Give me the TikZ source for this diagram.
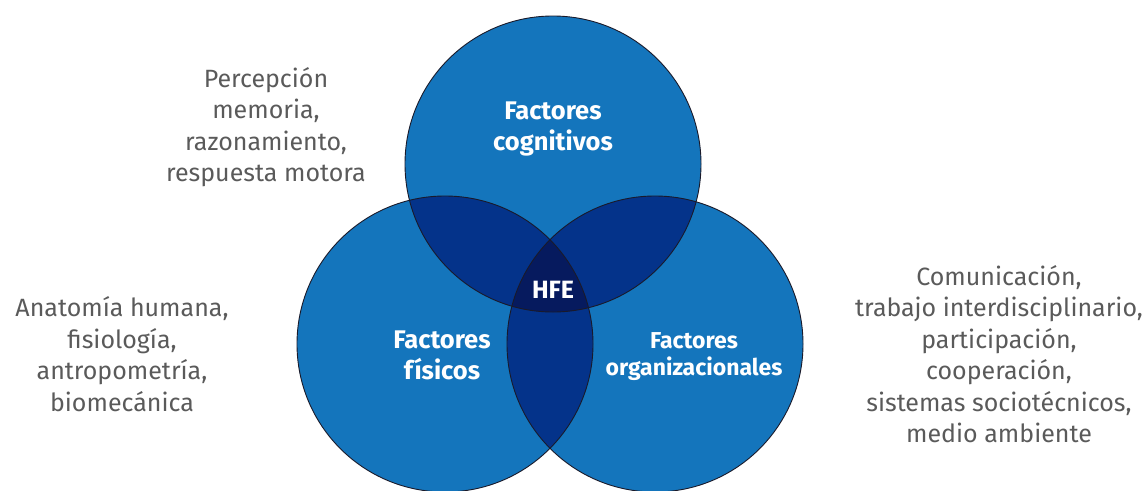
\documentclass[tikz,border=0pt]{standalone}
\usepackage{fontspec}
\setmainfont{Fira Sans}
\definecolor{vblue}{HTML}{1475BC}
\definecolor{vdark}{HTML}{04338A}
\definecolor{vcore}{HTML}{061A5E}
\definecolor{vline}{HTML}{1A1A2A}
\definecolor{tgray}{HTML}{5A5A5A}
\begin{document}
\begin{tikzpicture}[x=1pt,y=-1pt,
  graytext/.style={text=tgray, align=center, font=\fontsize{25}{31.5}\selectfont, inner sep=0pt},
  boldtext/.style={text=white, align=center, font=\bfseries\fontsize{25.5}{31}\selectfont, inner sep=0pt},
  ring/.style={draw=vline, line width=0.9pt}]
\useasboundingbox (0,0) rectangle (1145,490);
\coordinate (T) at (553,164);
\coordinate (L) at (445,344);
\coordinate (R) at (655,344);
\def\rr{148pt}
% base circles
\fill[vblue] (T) circle[radius=\rr];
\fill[vblue] (L) circle[radius=\rr];
\fill[vblue] (R) circle[radius=\rr];
% pairwise overlaps
\begin{scope}
  \clip (T) circle[radius=\rr];
  \fill[vdark] (L) circle[radius=\rr];
  \fill[vdark] (R) circle[radius=\rr];
\end{scope}
\begin{scope}
  \clip (L) circle[radius=\rr];
  \fill[vdark] (R) circle[radius=\rr];
\end{scope}
% triple overlap
\begin{scope}
  \clip (T) circle[radius=\rr];
  \clip (L) circle[radius=\rr];
  \fill[vcore] (R) circle[radius=\rr];
\end{scope}
% outlines
\draw[ring] (T) circle[radius=\rr];
\draw[ring] (L) circle[radius=\rr];
\draw[ring] (R) circle[radius=\rr];
% labels in circles
\node[boldtext] (cog) at (553,129) {Factores\\cognitivos};
\node[boldtext, font=\bfseries\fontsize{25}{30}\selectfont] (hfe) at (553,290) {HFE};
\node[boldtext] (fis) at (442,355) {Factores\\físicos};
\node[boldtext, font=\bfseries\fontsize{23}{27.5}\selectfont] (org) at (694,356.5) {Factores\\organizacionales};
% outer descriptions
\node[graytext] (tcog) at (266,127) {Percepción\\memoria,\\razonamiento,\\respuesta motora};
\node[graytext] (tfis) at (122,354) {Anatomía humana,\\fisiología,\\antropometría,\\biomecánica};
\node[graytext] (torg) at (999,354) {Comunicación,\\trabajo interdisciplinario,\\participación,\\cooperación,\\sistemas sociotécnicos,\\medio ambiente};
\end{tikzpicture}
\end{document}
